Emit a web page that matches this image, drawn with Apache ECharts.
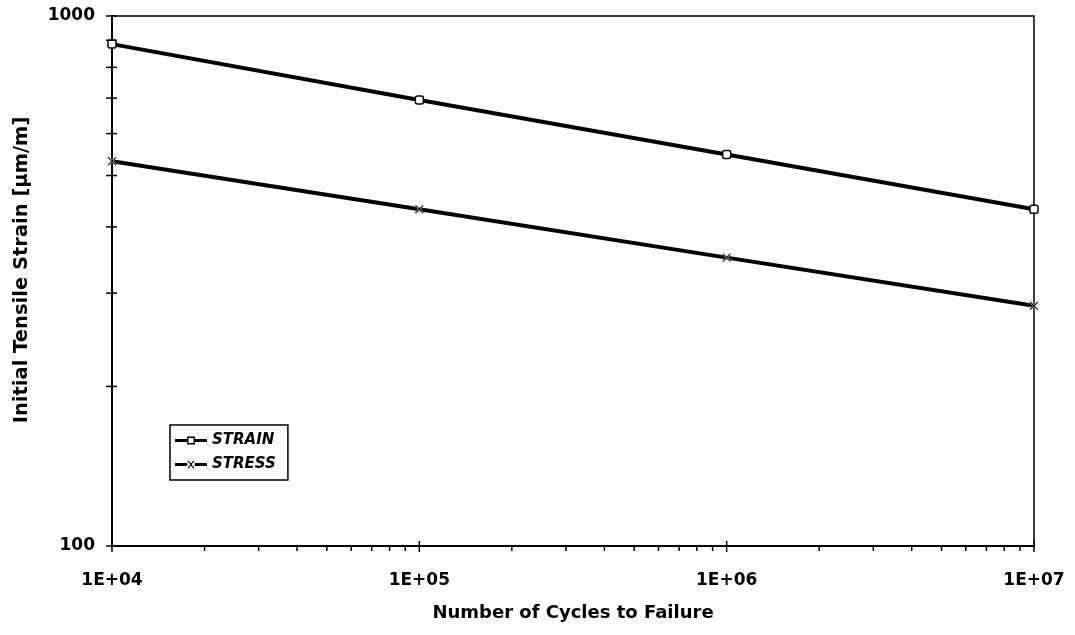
<!DOCTYPE html>
<html>
<head>
<meta charset="utf-8">
<script src="https://cdn.jsdelivr.net/npm/echarts@6/dist/echarts.min.js"></script>
<style>
html,body{margin:0;padding:0;background:#fff;}
#chart{width:1075px;height:635px;}
</style>
</head>
<body>
<div id="chart"></div>
<script>
// ---- data ----
const cycles = [1e4, 1e5, 1e6, 1e7];
const strain = [885, 694, 548, 432];
const stress = [532, 432, 350, 284];
const seriesNames = ['STRAIN', 'STRESS'];
const xTitle = 'Number of Cycles to Failure';
const yTitle = 'Initial Tensile Strain [\u00b5m/m]';
const xMajorTicks = [1e4, 1e5, 1e6, 1e7];
const mantissas = [2, 3, 4, 5, 6, 7, 8, 9];
const xDecades = [1e4, 1e5, 1e6];
const yDecades = [100];
const yMajorTicks = [100, 1000];

const FONT = 'DejaVu Sans';

// tick marks data [x, y, kind]
const tickData = [];
xDecades.forEach(d => mantissas.forEach(m => tickData.push([m * d, 100, 0])));
xMajorTicks.forEach(v => tickData.push([v, 100, 1]));
yDecades.forEach(d => mantissas.forEach(m => tickData.push([1e4, m * d, 2])));
yMajorTicks.forEach(v => tickData.push([1e4, v, 2]));

const xSymbol = 'path://M0,1.2L1.2,0L5,3.8L8.8,0L10,1.2L6.2,5L10,8.8L8.8,10L5,6.2L1.2,10L0,8.8L3.8,5Z';
const strainIcon = 'path://M0,2.5L12,2.5L12,5.5L0,5.5Z M20,2.5L32,2.5L32,5.5L20,5.5Z M12,0L20,0L20,8L12,8Z M13.5,1.5L13.5,6.5L18.5,6.5L18.5,1.5Z';
const stressIcon = 'path://M0,2.5L12.3,2.5L12.3,5.5L0,5.5Z M19.7,2.5L32,2.5L32,5.5L19.7,5.5Z M12.5,0.8L13.3,0L16,2.7L18.7,0L19.5,0.8L16.8,3.5L16.8,4.5L19.5,7.2L18.7,8L16,5.3L13.3,8L12.5,7.2L15.2,4.5L15.2,3.5Z';

const chart = echarts.init(document.getElementById('chart'), null, {renderer: 'canvas'});
chart.setOption({
  animation: false,
  backgroundColor: '#ffffff',
  grid: {
    left: 112, right: 41, top: 16, bottom: 89,
    show: true, borderColor: '#000', borderWidth: 1.5, backgroundColor: 'transparent'
  },
  legend: {
    data: [
      {name: seriesNames[0], icon: strainIcon},
      {name: seriesNames[1], icon: stressIcon}
    ],
    orient: 'vertical',
    left: 170, top: 425,
    padding: [8, 12, 8, 5],
    itemGap: 9,
    itemWidth: 32,
    itemHeight: 8,
    borderColor: '#000',
    borderWidth: 1.5,
    borderRadius: 0,
    itemStyle: {color: '#000', borderWidth: 0},
    textStyle: {fontFamily: FONT, fontWeight: 'bold', fontStyle: 'italic', fontSize: 15, lineHeight: 14, color: '#000'}
  },
  xAxis: {
    type: 'log', logBase: 10, min: 1e4, max: 1e7,
    name: xTitle, nameLocation: 'middle', nameGap: 58,
    nameTextStyle: {fontFamily: FONT, fontWeight: 'bold', fontSize: 18, color: '#000'},
    axisLine: {show: true, lineStyle: {color: '#000', width: 2}},
    axisTick: {show: false},
    splitLine: {show: false},
    axisLabel: {
      margin: 26, fontFamily: FONT, fontWeight: 'bold', fontSize: 17, color: '#000',
      formatter: v => '1E+0' + Math.round(Math.log10(v))
    }
  },
  yAxis: {
    type: 'log', logBase: 10, min: 100, max: 1000,
    name: yTitle, nameLocation: 'middle', nameGap: 80,
    nameTextStyle: {fontFamily: FONT, fontWeight: 'bold', fontSize: 19.5, color: '#000', padding: [0, 0, 0, 22]},
    axisLine: {show: true, lineStyle: {color: '#000', width: 2}},
    axisTick: {show: false},
    splitLine: {show: false},
    axisLabel: {
      margin: 17, fontFamily: FONT, fontWeight: 'bold', fontSize: 17, color: '#000',
      formatter: v => String(Math.round(v))
    }
  },
  series: [
    {
      name: seriesNames[0], type: 'line',
      data: cycles.map((c, i) => [c, strain[i]]),
      lineStyle: {color: '#000', width: 4},
      itemStyle: {color: '#fff', borderColor: '#000', borderWidth: 1.5},
      symbol: 'roundRect', symbolSize: 8, showSymbol: true, z: 3
    },
    {
      name: seriesNames[1], type: 'line',
      data: cycles.map((c, i) => [c, stress[i]]),
      lineStyle: {color: '#000', width: 4},
      itemStyle: {color: '#000', borderColor: '#fff', borderWidth: 0.6},
      symbol: xSymbol, symbolSize: 9, showSymbol: true, z: 3
    },
    {
      type: 'custom', silent: true, clip: false, z: 5,
      data: tickData,
      renderItem: function (params, api) {
        const p = api.coord([api.value(0), api.value(1)]);
        const k = api.value(2);
        let shape;
        if (k === 0) shape = {x1: p[0], y1: p[1], x2: p[0], y2: p[1] + 5};
        else if (k === 1) shape = {x1: p[0], y1: p[1] - 5, x2: p[0], y2: p[1] + 6};
        else shape = {x1: p[0] - 6, y1: p[1], x2: p[0] + 5, y2: p[1]};
        return {type: 'line', shape: shape, style: {stroke: '#000', lineWidth: 1.5}};
      }
    }
  ]
});
</script>
</body>
</html>
